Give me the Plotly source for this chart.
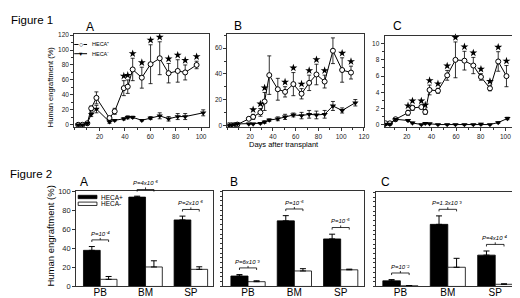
import plotly.graph_objects as go

# ---------------- Figure 1 data (days after transplant, % human engraftment) -------------
A_days_pos = [3.1, 6.4, 10.3, 13.4, 17.5, 27.8, 31.9, 39.1, 42.2, 46.1, 53.3, 60.2, 67.4, 74.4, 81.6, 87.5, 96.5]
A_pos = [0, 0, 2, 22, 36, 9, 18, 49, 51, 74, 63, 81, 89, 69, 72, 70, 80]
A_pos_err = [0.5, 0.5, 1, 3, 8, 2, 4, 10, 9, 15, 14, 26, 22, 13, 15, 10, 5]
A_pos_sig = [0, 0, 0, 0, 0, 0, 0, 1, 1, 1, 1, 1, 1, 1, 1, 1, 1]
A_days_neg = [3.1, 6.4, 10.3, 13.4, 17.5, 27.8, 31.9, 39.1, 42.2, 46.1, 53.3, 60.2, 67.4, 74.4, 81.6, 87.5, 101.7]
A_neg = [0, 0, 2, 14, 21, 4, 6, 8, 10, 10, 6, 9, 12, 8, 11, 11, 16]
A_neg_err = [0.5, 0.5, 1, 3, 5, 2, 1, 1.5, 2, 1.5, 1, 2, 4, 3, 4, 4, 4]

B_days_pos = [1, 3.5, 6, 8.7, 18.8, 22.6, 29, 32.7, 36.8, 44.3, 50.7, 58, 65.2, 71.9, 78.3, 85.5, 92.8, 100.9, 108.7]
B_pos = [0, 0, 0, 0.5, 5, 6.5, 10, 18.5, 39, 28, 26, 32, 24.5, 33, 39.5, 34, 58, 43, 41]
B_pos_err = [0.3, 0.3, 0.3, 0.3, 1, 2, 3, 7, 15, 8.5, 4, 9, 4, 6, 8, 5, 10, 9.5, 5]
B_pos_sig = [0, 0, 0, 0, 0, 1, 1, 1, 0, 0, 1, 1, 1, 1, 1, 1, 1, 1, 1]
B_days_neg = [1, 3.5, 6, 8.7, 18.8, 22.6, 29, 32.7, 36.8, 44.3, 50.7, 58, 65.2, 71.9, 78.3, 85.5, 92.8, 100.9, 112.5]
B_neg = [0, 0, 0.5, 1, 1, 1, 1.5, 2.5, 4, 5, 6.5, 8, 7.5, 8.5, 8, 8.5, 15, 11.5, 17.5]
B_neg_err = [0.3, 0.3, 0.3, 0.5, 0.5, 0.5, 0.5, 1, 1, 1.5, 2, 1.5, 2.5, 3, 3, 3, 3.5, 2, 2.5]

C_days_pos = [2.8, 6.3, 10.9, 21, 24.6, 31.8, 35, 38.5, 45.3, 52.8, 59.5, 66.8, 74, 80.2, 87.5, 94.2, 100.9]
C_pos = [0.2, 0.2, 0.7, 1.5, 2.1, 2.2, 1.6, 4.3, 4.2, 6.1, 8.0, 7.9, 7.3, 5.9, 4.5, 7.8, 6.0]
C_pos_err = [0.1, 0.1, 0.1, 0.3, 0.3, 0.2, 0.3, 0.6, 0.3, 0.6, 2.2, 1.15, 1.0, 0.4, 0.3, 1.2, 1.3]
C_pos_sig = [0, 0, 0, 1, 1, 1, 1, 1, 1, 1, 1, 1, 1, 1, 1, 1, 1]
C_days_neg = [2.8, 6.3, 10.9, 21, 24.6, 31.8, 35, 38.5, 45.3, 52.8, 59.5, 66.8, 74, 80.2, 87.5, 94.2, 101.7]
C_neg = [0.1, 0.1, 0.7, 0.55, 0.25, 0.05, 0.2, 0.15, 0.05, 0.05, 0.05, 0.05, 0.05, 0.1, 0.05, 0.3, 0.8]
C_neg_err = [0.05, 0.05, 0.1, 0.1, 0.1, 0.05, 0.1, 0.05, 0.05, 0.05, 0.05, 0.05, 0.05, 0.1, 0.05, 0.1, 0.15]

# ---------------- Figure 2 data (tissue, % human engraftment) -------------
tissues = ["PB", "BM", "SP"]
A2_pos = [38, 94, 70]
A2_pos_err = [4, 1, 4]
A2_neg = [7.5, 20.5, 18]
A2_neg_err = [3, 6.5, 2.7]
A2_p = ["P=10⁻⁴", "P=4x10⁻⁶", "P=2x10⁻⁶"]
B2_pos = [11, 69, 50]
B2_pos_err = [1.5, 5.5, 5]
B2_neg = [5, 16.3, 17.5]
B2_neg_err = [1, 2.4, 0.7]
B2_p = ["P=6x10⁻³", "P=10⁻⁶", "P=10⁻⁶"]
C2_pos = [6, 66, 33.3]
C2_pos_err = [1.3, 9, 4.4]
C2_neg = [0.7, 20.4, 2.3]
C2_neg_err = [0.3, 9.5, 0.5]
C2_p = ["P=10⁻²", "P=1.3x10⁻³", "P=4x10⁻⁴"]

legend_names_fig1 = ["HECA⁺", "HECA⁻"]
legend_names_fig2 = ["HECA+", "HECA-"]

W, H = 520, 298
FONT = "Liberation Sans, Arial, sans-serif"


def dx(a, b):
    return [a / W, b / W]


def dy(top, bottom):
    return [1 - bottom / H, 1 - top / H]


fig = go.Figure()
annotations = []
shapes = []


def ax_names(k):
    return ("x" if k == 1 else f"x{k}"), ("y" if k == 1 else f"y{k}")


def line_panel(k, dp, vp, ep, sp, dn, vn, en, yr):
    xa, ya = ax_names(k)
    fig.add_trace(go.Scatter(
        x=dp, y=vp, xaxis=xa, yaxis=ya, mode="lines+markers", name=legend_names_fig1[0],
        line=dict(color="black", width=1),
        marker=dict(symbol="circle", size=5, color="white", line=dict(color="black", width=1)),
        error_y=dict(type="data", array=ep, color="black", thickness=0.8, width=2),
        showlegend=False))
    fig.add_trace(go.Scatter(
        x=dn, y=vn, xaxis=xa, yaxis=ya, mode="lines+markers", name=legend_names_fig1[1],
        line=dict(color="black", width=1),
        marker=dict(symbol="triangle-down", size=5.5, color="black"),
        error_y=dict(type="data", array=en, color="black", thickness=0.8, width=2),
        showlegend=False))
    off = 0.05 * (yr[1] - yr[0])
    sx = [d for d, s in zip(dp, sp) if s]
    sy = [v + e + off for v, e, s in zip(vp, ep, sp) if s]
    fig.add_trace(go.Scatter(
        x=sx, y=sy, xaxis=xa, yaxis=ya, mode="markers", cliponaxis=False,
        marker=dict(symbol="star", size=6, color="black"), showlegend=False, hoverinfo="skip"))


def bar_panel(k, kb, vp, ep, vn, en, plabels):
    xa, ya = ax_names(k)
    xb, yb_ax = ax_names(kb)
    fig.add_trace(go.Bar(
        x=tissues, y=vp, xaxis=xa, yaxis=ya, name=legend_names_fig2[0],
        marker=dict(color="black", line=dict(color="black", width=0.8)),
        error_y=dict(type="data", array=ep, arrayminus=[0] * len(ep), symmetric=False,
                     color="black", thickness=1, width=3),
        showlegend=False))
    fig.add_trace(go.Bar(
        x=tissues, y=vn, xaxis=xa, yaxis=ya, name=legend_names_fig2[1],
        marker=dict(color="white", line=dict(color="black", width=0.8)),
        error_y=dict(type="data", array=en, arrayminus=[0] * len(en), symmetric=False,
                     color="black", thickness=1, width=3),
        showlegend=False))
    # significance brackets + P values, on a hidden numeric twin of the panel with the same
    # scale but a taller area (so the BM bracket in panel A can rise above the frame)
    half = 0.185
    tick = 2.2
    offset = 7
    bx, by = [], []
    for i, lab in enumerate(plabels):
        top = max(vp[i] + ep[i], vn[i] + en[i])
        yb = top + offset
        bx += [i - half, i - half, i + half, i + half, None, i, i, None]
        by += [yb - tick, yb, yb, yb - tick, None, yb, yb + tick, None]
        annotations.append(dict(
            x=i, y=yb + tick, xref=xb, yref=yb_ax, text=lab, showarrow=False,
            yanchor="bottom", font=dict(size=6, family=FONT, color="black", style="italic"),
            bgcolor="white", borderpad=0))
    fig.add_trace(go.Scatter(x=bx, y=by, xaxis=xb, yaxis=yb_ax, mode="lines",
                             line=dict(color="black", width=0.8), showlegend=False,
                             hoverinfo="skip", connectgaps=False))


line_panel(1, A_days_pos, A_pos, A_pos_err, A_pos_sig, A_days_neg, A_neg, A_neg_err, [-3.5, 121])
line_panel(2, B_days_pos, B_pos, B_pos_err, B_pos_sig, B_days_neg, B_neg, B_neg_err, [-1.7, 70.8])
line_panel(3, C_days_pos, C_pos, C_pos_err, C_pos_sig, C_days_neg, C_neg, C_neg_err, [-0.3, 10.9])
bar_panel(4, 7, A2_pos, A2_pos_err, A2_neg, A2_neg_err, A2_p)
bar_panel(5, 8, B2_pos, B2_pos_err, B2_neg, B2_neg_err, B2_p)
bar_panel(6, 9, C2_pos, C2_pos_err, C2_neg, C2_neg_err, C2_p)

tickfont = dict(size=6.5, family=FONT, color="#222")
common_line = dict(showline=True, linecolor="#333", linewidth=1, mirror=True,
                   ticks="outside", ticklen=3, tickwidth=0.8, tickcolor="#333",
                   showgrid=False, zeroline=False, tickfont=tickfont)
minor_x = dict(dtick=10, ticklen=2, tickcolor="#333", ticks="outside")

lay = dict(
    width=W, height=H, margin=dict(l=0, r=0, t=0, b=0),
    paper_bgcolor="white", plot_bgcolor="rgba(0,0,0,0)",
    font=dict(family=FONT, color="black"),
    barmode="group", bargap=0.26, bargroupgap=0, showlegend=False,
)

# Figure 1 axes
lay["xaxis"] = dict(domain=dx(67, 203), range=[0, 106], anchor="y", tickvals=[20, 40, 60, 80, 100],
                    minor=minor_x, **common_line)
lay["yaxis"] = dict(domain=dy(23, 119), range=[-3.5, 121], anchor="x", dtick=20,
                    minor=dict(minor_x, dtick=10), **common_line)
lay["xaxis2"] = dict(domain=dx(222, 360), range=[0, 120], anchor="y2", tickvals=[20, 40, 60, 80, 100, 120],
                     minor=minor_x, **common_line)
lay["yaxis2"] = dict(domain=dy(23, 119), range=[-1.7, 70.8], anchor="x2", dtick=20,
                     minor=dict(minor_x, dtick=10), **common_line)
lay["xaxis3"] = dict(domain=dx(381, 515), range=[2, 109.5], anchor="y3", tickvals=[20, 40, 60, 80, 100],
                     minor=minor_x, **common_line)
lay["yaxis3"] = dict(domain=dy(25, 119), range=[-0.3, 10.9], anchor="x3", dtick=2,
                     minor=dict(minor_x, dtick=1), **common_line)

# Figure 2 axes
bar_x = dict(showline=True, linecolor="#333", linewidth=1, mirror=True, ticks="", ticklen=0,
             ticklabelstandoff=-3,
             showgrid=False, zeroline=False, tickfont=dict(size=10, family=FONT, color="black"))
panels2 = [(4, 7, (69, 207), [-0.53, 2.48], 185), (5, 8, (218, 360), [-0.53, 2.5], 185),
           (6, 9, (372, 515), [-0.52, 2.46], 186)]
for k, kb, (xl, xr), xrng, ytop in panels2:
    lay[f"xaxis{k}"] = dict(domain=dx(xl, xr), range=xrng, anchor=f"y{k}", type="category", **bar_x)
    if k == 4:
        lay[f"yaxis{k}"] = dict(domain=dy(ytop, 283), range=[0, 100], anchor=f"x{k}", dtick=20,
                                **dict(common_line, tickfont=dict(size=7.5, family=FONT, color="#222")))
    else:
        lay[f"yaxis{k}"] = dict(domain=dy(ytop, 283), range=[0, 100], anchor=f"x{k}", dtick=5,
                                showticklabels=False, **dict(common_line, ticklen=2))
    ext_top = 165
    lay[f"xaxis{kb}"] = dict(domain=dx(xl, xr), range=xrng, anchor=f"y{kb}", type="linear", visible=False)
    lay[f"yaxis{kb}"] = dict(domain=dy(ext_top, 283), range=[0, 100 * (283 - ext_top) / (283 - ytop)],
                             anchor=f"x{kb}", visible=False)


def txt(s, x, y, size, xanchor="center", yanchor="middle", angle=0, bg=None):
    d = dict(text=s, x=x / W, y=1 - y / H, xref="paper", yref="paper",
             xanchor=xanchor, yanchor=yanchor, showarrow=False, textangle=angle,
             font=dict(size=size, family=FONT, color="black"), borderpad=0)
    if bg:
        d["bgcolor"] = bg
    annotations.append(d)


def seg(x0, x1, y):
    shapes.append(dict(type="line", xref="paper", yref="paper", x0=x0 / W, x1=x1 / W,
                       y0=1 - y / H, y1=1 - y / H, line=dict(color="black", width=1)))


txt("Figure 1", 2, 8, 11.5, xanchor="left")
txt("A", 83, 15, 12)
txt("B", 232.5, 14, 12)
txt("C", 394, 14, 12)
txt("Figure 2", 1, 167, 11.5, xanchor="left")
txt("A", 77, 175, 12)
txt("B", 228.5, 175, 12)
txt("C", 382, 175, 12)
txt("Human engraftment (%)", 43, 77, 7.5, angle=-90)
txt("Days after transplant", 279, 137, 7.5)
txt("Human engraftment (%)", 43, 231, 9.5, angle=-90)

# Figure 1 legend (inside panel A)
seg(67, 80, 33.5)
seg(67, 80, 43)
txt("○", 73.5, 33, 7, bg="white")
txt("▼", 73.5, 43, 5.5)
txt(legend_names_fig1[0], 84, 33.5, 5.5, xanchor="left")
txt(legend_names_fig1[1], 84, 43, 5.5, xanchor="left")

# Figure 2 legend (inside panel A)
shapes.append(dict(type="rect", xref="paper", yref="paper", x0=71 / W, x1=90 / W,
                   y0=1 - 192.5 / H, y1=1 - 189 / H, fillcolor="black", line=dict(color="black", width=0.8)))
shapes.append(dict(type="rect", xref="paper", yref="paper", x0=71 / W, x1=90 / W,
                   y0=1 - 199.5 / H, y1=1 - 196 / H, fillcolor="white", line=dict(color="black", width=0.8)))
txt(legend_names_fig2[0], 93, 190.8, 6.5, xanchor="left")
txt(legend_names_fig2[1], 93, 197.8, 6.5, xanchor="left")

lay["annotations"] = annotations
lay["shapes"] = shapes
fig.update_layout(**lay)
fig.write_html("out.html")
